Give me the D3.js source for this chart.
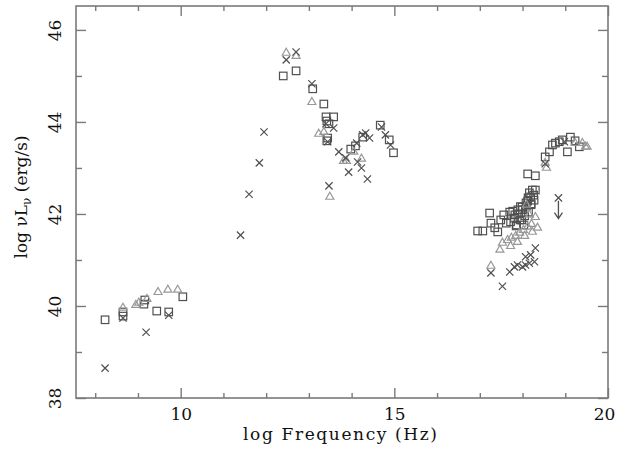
<!DOCTYPE html>
<html>
<head>
<meta charset="utf-8">
<script src="https://cdn.jsdelivr.net/npm/d3@7"></script>
<style>
  body { margin: 0; background: #fff; }
  svg { display: block; }
</style>
</head>
<body>
<svg id="svg1"></svg>
<script>
let width = 619;
let height = 450;

// log frequency (Hz) / log nuL_nu (erg/s)
let sqX = [8.23, 8.65, 8.65, 9.14, 9.16, 9.44, 9.72, 10.05,
  12.40, 12.70, 13.09, 13.35, 13.40, 13.58, 13.42, 13.47, 13.44, 13.42, 13.98, 14.09, 14.26, 14.67, 14.88, 14.98,
  16.95, 17.07, 17.26, 17.42, 17.23, 17.49, 17.56, 17.70, 17.72, 17.81, 17.86, 17.91, 17.98, 18.00, 18.05, 18.09,
  18.14, 18.12, 18.19, 18.23, 18.30, 18.16, 18.26, 18.12, 18.30, 17.35, 17.62, 17.77, 17.95, 18.20,
  17.82, 17.89, 17.99, 18.08, 18.13, 18.20, 18.27, 17.94, 18.03, 17.85,
  18.53, 18.63, 18.70, 18.77, 18.86, 18.93, 19.05, 19.12, 19.33, 19.23];
let sqY = [39.70, 39.78, 39.87, 40.04, 40.13, 39.89, 39.87, 40.20,
  45.00, 45.11, 44.72, 44.39, 44.11, 44.11, 44.02, 43.96, 43.65, 43.59, 43.41, 43.48, 43.67, 43.93, 43.61, 43.33,
  41.63, 41.63, 41.80, 41.61, 42.02, 41.87, 41.98, 42.04, 41.83, 41.91, 41.76, 42.00, 41.87, 42.09, 41.96, 42.17,
  42.04, 42.28, 42.37, 42.52, 42.52, 42.46, 42.41, 42.87, 42.83, 41.70, 41.80, 42.06, 42.16, 42.22,
  41.98, 42.09, 42.15, 42.24, 42.35, 42.20, 42.30, 41.87, 41.76, 41.74,
  43.24, 43.35, 43.50, 43.54, 43.57, 43.61, 43.35, 43.67, 43.46, 43.59];

let triX = [8.65, 8.95, 9.02, 9.21, 9.47, 9.70, 9.93,
  12.47, 12.70, 13.07, 13.23, 13.35, 13.81, 13.88, 14.23, 13.49, 14.05,
  17.26, 17.47, 18.30, 17.53, 17.65, 17.74, 17.84, 17.93, 18.02, 18.12, 18.21, 18.05, 17.88, 17.72, 18.23, 18.35, 18.16, 18.09,
  18.53, 18.56, 19.47, 19.23, 19.40, 19.51];
let triY = [39.96, 40.02, 40.07, 40.15, 40.30, 40.35, 40.35,
  45.50, 45.43, 44.43, 43.74, 43.78, 43.15, 43.15, 43.20, 42.37, 43.35,
  40.87, 41.22, 41.93, 41.37, 41.43, 41.48, 41.52, 41.59, 41.65, 41.72, 41.78, 41.52, 41.39, 41.30, 41.61, 41.70, 41.98, 42.20,
  43.11, 43.00, 43.46, 43.54, 43.54, 43.46];

let crX = [8.23, 8.65, 9.19, 9.72,
  11.40, 11.60, 11.84, 11.95, 12.47, 12.70, 13.07, 13.40, 13.58, 13.44, 13.70, 13.86, 13.93, 14.12, 14.26, 14.33,
  14.42, 14.14, 14.23, 14.37, 13.47, 14.70, 14.79, 14.91,
  17.26, 17.53, 17.70, 17.81, 17.88, 18.00, 18.07, 18.16, 18.28, 18.07, 18.19, 18.30, 18.53, 18.98];
let crY = [38.65, 39.74, 39.43, 39.80,
  41.54, 42.43, 43.11, 43.78, 45.35, 45.52, 44.83, 43.96, 43.87, 43.57, 43.35, 43.22, 42.91, 43.54, 43.72, 43.76,
  43.65, 43.13, 43.00, 42.76, 42.61, 43.89, 43.72, 43.50,
  40.72, 40.43, 40.74, 40.85, 40.89, 40.85, 40.89, 40.93, 40.96, 41.07, 41.11, 41.26, 43.09, 43.57];

// upper limit
let ulX = [18.84];
let ulY = [42.35];
let ulTo = [41.90];

let xMajor = [10, 15, 20];
let yMajor = [38, 40, 42, 44, 46];
let xMinor = [8, 9, 11, 12, 13, 14, 16, 17, 18, 19];
let yMinor = [39, 41, 43, 45];

let pLeft = 76, pRight = 608, pTop = 6, pBottom = 398;
let axisColor = '#7a7a7a';
let markColor = '#505050';
let triColor = '#989898';

let svg1 = d3.select('#svg1')
  .attr('width', width)
  .attr('height', height);

let xax = d3.scaleLinear()
  .domain([7.55, 20])
  .range([pLeft, pRight]);

let yax = d3.scaleLinear()
  .domain([38, 46.52])
  .range([pBottom, pTop]);

// frame
svg1.append('rect')
  .attr('x', pLeft).attr('y', pTop)
  .attr('width', pRight - pLeft).attr('height', pBottom - pTop)
  .attr('fill', 'none')
  .attr('stroke', axisColor)
  .attr('stroke-width', 1.6);

function inwardAxis(axisFn, scale, vals, size, pos, labels) {
  let g = svg1.append('g')
    .attr('transform', pos)
    .call(axisFn(scale).tickValues(vals).tickSize(-size).tickFormat(labels ? d3.format('d') : ''));
  g.select('.domain').remove();
  g.selectAll('.tick line').attr('stroke', axisColor).attr('stroke-width', 1.4);
  return g;
}

let xb = inwardAxis(d3.axisBottom, xax, xMajor, 10, `translate(0,${pBottom})`, true);
inwardAxis(d3.axisBottom, xax, xMinor, 5, `translate(0,${pBottom})`, false);
inwardAxis(d3.axisTop, xax, xMajor, 10, `translate(0,${pTop})`, false);
inwardAxis(d3.axisTop, xax, xMinor, 5, `translate(0,${pTop})`, false);
let yl = inwardAxis(d3.axisLeft, yax, yMajor, 10, `translate(${pLeft},0)`, true);
inwardAxis(d3.axisLeft, yax, yMinor, 6, `translate(${pLeft},0)`, false);
inwardAxis(d3.axisRight, yax, yMajor, 10, `translate(${pRight},0)`, false);
inwardAxis(d3.axisRight, yax, yMinor, 6, `translate(${pRight},0)`, false);

xb.selectAll('.tick text')
  .attr('y', 10)
  .attr('dy', '0.71em')
  .attr('font-family', 'DejaVu Serif')
  .attr('font-size', 17)
  .attr('fill', '#111');
xb.selectAll('.tick text').filter(d => d === 20).attr('dx', -4);

yl.selectAll('.tick text')
  .attr('x', 0)
  .attr('dy', 0)
  .attr('text-anchor', 'middle')
  .attr('transform', 'translate(-15,0) rotate(-90)')
  .attr('font-family', 'DejaVu Serif')
  .attr('font-size', 17)
  .attr('fill', '#111');

// titles
svg1.append('text')
  .attr('x', 340).attr('y', 440)
  .attr('text-anchor', 'middle')
  .attr('font-family', 'DejaVu Serif')
  .attr('font-size', 17)
  .attr('fill', '#111')
  .attr('textLength', 194)
  .attr('lengthAdjust', 'spacing')
  .text('log Frequency (Hz)');

let yt = svg1.append('text')
  .attr('transform', 'translate(27,197) rotate(-90)')
  .attr('text-anchor', 'middle')
  .attr('font-family', 'DejaVu Serif')
  .attr('font-size', 17)
  .attr('fill', '#111');
yt.append('tspan').text('log \u03BDL');
yt.append('tspan').attr('font-size', 12).attr('dy', 4).text('\u03BD');
yt.append('tspan').attr('dy', -4).text(' (erg/s)');

// markers
let pts = (xs, ys) => xs.map((d, i) => ({x: d, y: ys[i]}));
let marks = svg1.append('g').attr('fill', 'none').attr('stroke-width', 1.2);

marks.selectAll('rect.sq')
  .data(pts(sqX, sqY))
  .join('rect')
    .attr('class', 'sq')
    .attr('x', d => xax(d.x) - 3.75)
    .attr('y', d => yax(d.y) - 3.75)
    .attr('width', 7.5).attr('height', 7.5)
    .attr('stroke', markColor);

let tri = d3.symbol().type(d3.symbolTriangle).size(28);
marks.selectAll('path.tri')
  .data(pts(triX, triY))
  .join('path')
    .attr('class', 'tri')
    .attr('d', tri)
    .attr('transform', d => `translate(${xax(d.x)},${yax(d.y)})`)
    .attr('stroke', triColor);

let cross = d3.symbol().type(d3.symbolX).size(36);
marks.selectAll('path.cr')
  .data(pts(crX, crY).concat(pts(ulX, ulY)))
  .join('path')
    .attr('class', 'cr')
    .attr('d', cross)
    .attr('transform', d => `translate(${xax(d.x)},${yax(d.y)})`)
    .attr('stroke', markColor);

// upper limit arrow
let ul = ulX.map((d, i) => ({x: d, y0: ulY[i], y1: ulTo[i]}));
marks.selectAll('path.ul')
  .data(ul)
  .join('path')
    .attr('class', 'ul')
    .attr('d', d => {
      let px = xax(d.x), p0 = yax(d.y0) + 3, p1 = yax(d.y1);
      return `M${px},${p0}L${px},${p1}M${px - 4},${p1 - 6}L${px},${p1}L${px + 4},${p1 - 6}`;
    })
    .attr('stroke', markColor)
    .attr('stroke-width', 1.3);
</script>
</body>
</html>
